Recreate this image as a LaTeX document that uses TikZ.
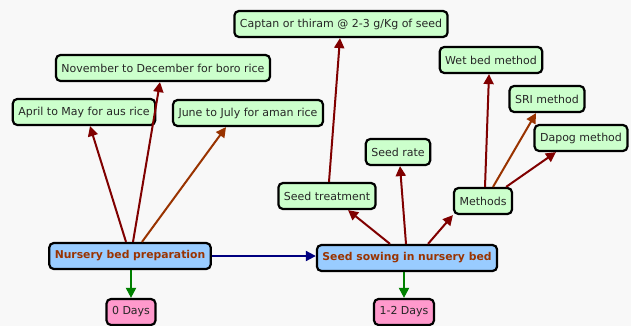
\documentclass[tikz,border=0pt]{standalone}
\usepackage{fontspec}
\setmainfont{DejaVu Sans}
\usepackage{xcolor}
\usetikzlibrary{arrows.meta}
\definecolor{leafgreen}{HTML}{CCFFCC}
\definecolor{stageblue}{HTML}{99CCFF}
\definecolor{daypink}{HTML}{FF99CC}
\definecolor{darkred}{HTML}{800000}
\definecolor{rust}{HTML}{993300}
\definecolor{darkgreen}{HTML}{008000}
\definecolor{navyblue}{HTML}{000080}
\definecolor{paper}{HTML}{F8F8F8}
\tikzset{
  box/.style={draw=black, line width=2.2pt, rounded corners=4.5pt, minimum height=26pt,
    inner xsep=5.5pt, inner ysep=0pt, font=\fontsize{11}{13}\selectfont, text=black!85},
  leaf/.style={box, fill=leafgreen},
  stage/.style={box, fill=stageblue, text=rust, font=\fontsize{10.8}{13}\selectfont\bfseries},
  days/.style={box, fill=daypink},
  link/.style={line width=2pt, -{Triangle[length=10pt,width=10pt]}},
}
\begin{document}
\begin{tikzpicture}[x=1pt,y=-1pt]
\useasboundingbox[fill=paper] (0,0) rectangle (631,326);

% left stage
\node[stage] (nursery) at (130,256) {Nursery bed preparation};
\node[days] (day0) at (131,312) {0 Days};
\node[leaf] (aus) at (84,112) {April to May for aus rice};
\node[leaf] (boro) at (163,68) {November to December for boro rice};
\node[leaf] (aman) at (248,113) {June to July for aman rice};

% right stage
\node[stage] (sowing) at (407,258) {Seed sowing in nursery bed};
\node[days] (day12) at (404,312) {1-2 Days};
\node[leaf] (treat) at (327,196) {Seed treatment};
\node[leaf] (captan) at (341,24) {Captan or thiram @ 2-3 g/Kg of seed};
\node[leaf] (rate) at (398,152) {Seed rate};
\node[leaf] (methods) at (483,201) {Methods};
\node[leaf] (wetbed) at (491,60) {Wet bed method};
\node[leaf] (sri) at (547,99) {SRI method};
\node[leaf] (dapog) at (581,138) {Dapog method};

\draw[link,darkred] ([xshift=-4pt]nursery.north) -- (aus.south -| 90,0);
\draw[link,darkred] ([xshift=3pt]nursery.north) -- (boro.south -| 160,0);
\draw[link,rust] ([xshift=12pt]nursery.north) -- (aman.south -| 226,0);
\draw[link,navyblue] (nursery.east) -- (sowing.west |- nursery.east);
\draw[link,darkgreen] (nursery.south -| day0.north) -- (day0.north);

\draw[link,darkred] ([xshift=-17pt]sowing.north) -- (treat.south -| 348,0);
\draw[link,darkred] ([xshift=-1pt]sowing.north) -- (rate.south -| 400,0);
\draw[link,darkred] ([xshift=21pt]sowing.north) -- (methods.south west);
\draw[link,darkgreen] (sowing.south -| day12.north) -- (day12.north);
\draw[link,darkred] ([xshift=2pt]treat.north) -- (captan.south -| 340,0);
\draw[link,darkred] ([xshift=2pt]methods.north) -- (wetbed.south -| 489,0);
\draw[link,rust] ([xshift=10pt]methods.north) -- (sri.south -| 536,0);
\draw[link,darkred] ([xshift=-7pt]methods.north east) -- (dapog.south -| 556,0);
\end{tikzpicture}
\end{document}
